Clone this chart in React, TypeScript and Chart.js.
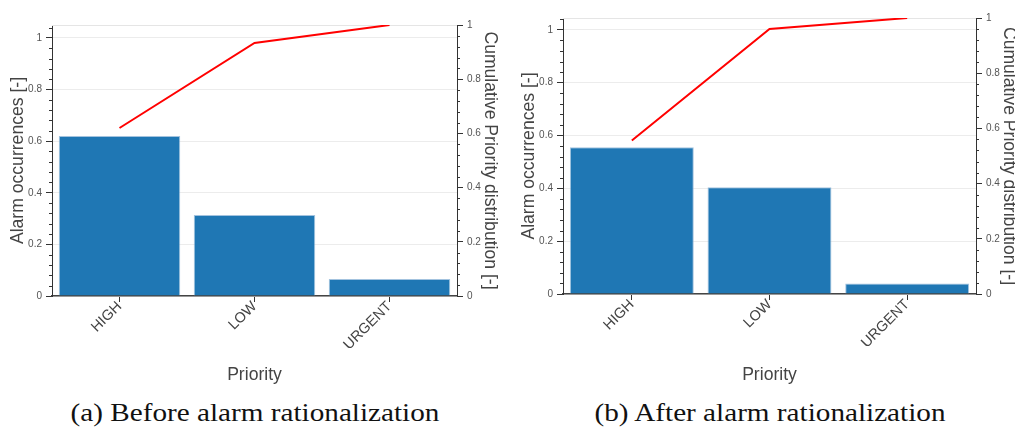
import React, { useEffect, useRef } from "react";
import { Chart, registerables } from "chart.js";

Chart.register(...registerables);

// ---- Data ----
const categories = ["HIGH", "LOW", "URGENT"];
const beforeOccurrences = [0.62, 0.314, 0.066];
const beforeCumulative = [0.62, 0.934, 1.0];
const afterOccurrences = [0.556, 0.404, 0.04];
const afterCumulative = [0.556, 0.96, 1.0];
const majorTicks = [0, 0.2, 0.4, 0.6, 0.8, 1];
const captionBefore = "(a) Before alarm rationalization";
const captionAfter = "(b) After alarm rationalization";
const xTitle = "Priority";
const yTitle = "Alarm occurrences [-]";
const y1Title = "Cumulative Priority distribution [-]";

const SANS = "'Liberation Sans', Arial, Helvetica, sans-serif";
const TEXT = "#444";
const AXIS = "#333";
const TITLE_SIZE = 17.6;

const minorTicksPlugin = {
  id: "minorTicks",
  beforeDatasetsDraw(chart: any) {
    const { ctx, chartArea } = chart;
    ctx.save();
    ctx.strokeStyle = "#e5e5e5";
    ctx.lineWidth = 1;
    ctx.beginPath();
    ctx.moveTo(chartArea.left, Math.round(chartArea.top) + 0.5);
    ctx.lineTo(chartArea.right, Math.round(chartArea.top) + 0.5);
    ctx.stroke();
    ctx.restore();
  },
  afterDraw(chart: any) {
    const ctx = chart.ctx;
    ctx.save();
    ctx.strokeStyle = AXIS;
    ctx.lineWidth = 1;
    for (const id of ["y", "y1"]) {
      const s = chart.scales[id];
      if (!s) continue;
      const x = id === "y" ? s.right : s.left;
      const dir = id === "y" ? -1 : 1;
      for (let i = 1; ; i++) {
        const v = i * 0.04;
        if (v > s.max + 1e-9) break;
        if (i % 5 === 0) continue;
        const py = Math.round(s.getPixelForValue(v)) + 0.5;
        ctx.beginPath();
        ctx.moveTo(x, py);
        ctx.lineTo(x + dir * 3, py);
        ctx.stroke();
      }
    }
    ctx.restore();
  },
};

const fmt = (v: any) => String(+Number(v).toFixed(2));

type Props = {
  left: number;
  width: number;
  height: number;
  occurrences: number[];
  cumulative: number[];
  yMax: number;
  padTop: number;
  yWidth: number;
  y1Width: number;
  xHeight: number;
  yTitlePad: number;
  y1TitlePad: number;
};

function ParetoChart(p: Props) {
  const ref = useRef<HTMLCanvasElement>(null);
  useEffect(() => {
    if (!ref.current) return;
    const chart = new Chart(ref.current, {
      type: "bar",
      data: {
        labels: categories,
        datasets: [
          {
            type: "line" as const,
            data: p.cumulative,
            yAxisID: "y1",
            borderColor: "#ff0000",
            borderWidth: 2,
            pointRadius: 0,
            tension: 0,
            order: 0,
          } as any,
          {
            type: "bar" as const,
            data: p.occurrences,
            yAxisID: "y",
            backgroundColor: "#1f77b4",
            borderColor: "rgba(140,180,215,0.8)",
            borderWidth: 1,
            barPercentage: 0.9,
            categoryPercentage: 1.0,
            order: 1,
          },
        ],
      },
      options: {
        animation: false,
        responsive: false,
        maintainAspectRatio: false,
        layout: { padding: { top: p.padTop, left: 0, right: 0, bottom: 0 } },
        plugins: { legend: { display: false }, tooltip: { enabled: false } },
        scales: {
          x: {
            offset: true,
            grid: {
              offset: false,
              drawOnChartArea: false,
              tickLength: 6,
              tickColor: AXIS,
            },
            border: { color: "#444", width: 1.5 },
            ticks: {
              minRotation: 45,
              maxRotation: 45,
              autoSkip: false,
              padding: -4,
              color: TEXT,
              font: { family: SANS, size: 14.5 },
            },
            title: {
              display: true,
              text: xTitle,
              color: TEXT,
              font: { family: SANS, size: TITLE_SIZE },
              padding: { top: 0, bottom: 9.4 },
            },
            afterFit: (s: any) => {
              s.height = p.xHeight;
            },
          },
          y: {
            position: "left",
            min: 0,
            max: p.yMax,
            afterBuildTicks: (s: any) => {
              s.ticks = majorTicks.map((v) => ({ value: v }));
            },
            grid: {
              color: "#ececec",
              tickColor: AXIS,
              tickLength: 6,
            },
            border: { color: AXIS, width: 1 },
            ticks: {
              padding: 4,
              color: "#555",
              font: { family: SANS, size: 10 },
              callback: fmt,
            },
            title: {
              display: true,
              text: yTitle,
              color: TEXT,
              font: { family: SANS, size: TITLE_SIZE },
              padding: { top: p.yTitlePad, bottom: 0 },
            },
            afterFit: (s: any) => {
              s.width = p.yWidth;
            },
          },
          y1: {
            position: "right",
            min: 0,
            max: 1,
            afterBuildTicks: (s: any) => {
              s.ticks = majorTicks.map((v) => ({ value: v }));
            },
            grid: {
              drawOnChartArea: false,
              tickColor: AXIS,
              tickLength: 6,
            },
            border: { color: AXIS, width: 1 },
            ticks: {
              padding: 4,
              color: "#555",
              font: { family: SANS, size: 10 },
              callback: fmt,
            },
            title: {
              display: true,
              text: y1Title,
              color: TEXT,
              font: { family: SANS, size: TITLE_SIZE },
              padding: { top: p.y1TitlePad, bottom: 0 },
            },
            afterFit: (s: any) => {
              s.width = p.y1Width;
            },
          },
        },
      } as any,
      plugins: [minorTicksPlugin],
    });
    return () => chart.destroy();
  }, []);
  return (
    <canvas
      ref={ref}
      width={p.width}
      height={p.height}
      style={{ position: "absolute", left: p.left, top: 0, width: p.width, height: p.height }}
    />
  );
}

const captionStyle = (center: number): React.CSSProperties => ({
  position: "absolute",
  left: center - 250,
  width: 500,
  top: 400,
  textAlign: "center",
  fontFamily: "'Liberation Serif', 'DejaVu Serif', serif",
  fontSize: 25.5,
  lineHeight: 1,
  color: "#111",
  whiteSpace: "nowrap",
  transform: "scaleX(1.145)",
  transformOrigin: "center",
});

export default function App() {
  return (
    <div
      style={{
        position: "fixed",
        left: 0,
        top: 0,
        width: 1015,
        height: 429,
        overflow: "hidden",
        background: "#fff",
      }}
    >
      <ParetoChart
        left={0}
        width={507}
        height={395}
        occurrences={beforeOccurrences}
        cumulative={beforeCumulative}
        yMax={1.05}
        padTop={25}
        yWidth={52}
        y1Width={50}
        xHeight={99}
        yTitlePad={7.4}
        y1TitlePad={6.4}
      />
      <ParetoChart
        left={507}
        width={515}
        height={395}
        occurrences={afterOccurrences}
        cumulative={afterCumulative}
        yMax={1.045}
        padTop={18}
        yWidth={56}
        y1Width={46}
        xHeight={101}
        yTitlePad={11.4}
        y1TitlePad={2.4}
      />
      <div style={captionStyle(255)}>{captionBefore}</div>
      <div style={captionStyle(770)}>{captionAfter}</div>
    </div>
  );
}
